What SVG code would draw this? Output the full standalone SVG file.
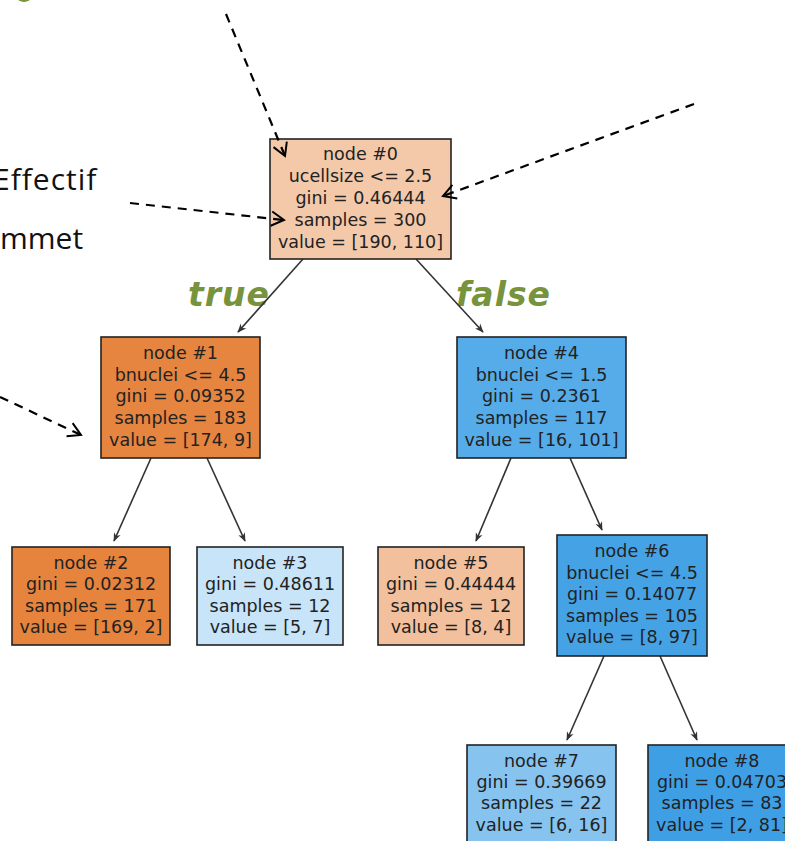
<svg xmlns="http://www.w3.org/2000/svg" width="785" height="841" viewBox="0 0 785 841">
  <defs>
    <marker id="tip" viewBox="0 0 10 10" refX="9" refY="5" markerWidth="9" markerHeight="9" markerUnits="userSpaceOnUse" orient="auto">
      <path d="M0,1 L10,5 L0,9 L3,5 Z" fill="#333"/>
    </marker>
    <marker id="open" viewBox="0 0 20 20" refX="18" refY="10" markerWidth="18" markerHeight="18" markerUnits="userSpaceOnUse" orient="auto">
      <path d="M4,2 L18,10 L4,18" fill="none" stroke="#000" stroke-width="2.2"/>
    </marker>
    <style>
      .box { stroke: #222; stroke-width: 1.6; }
      .lbl { font-family: "DejaVu Sans", sans-serif; font-size: 17.5px; fill: #222; text-anchor: middle; }
      .edge { stroke: #333; stroke-width: 1.6; fill: none; marker-end: url(#tip); }
      .note { stroke: #000; stroke-width: 2.2; stroke-dasharray: 9 7; fill: none; marker-end: url(#open); }
      .side { font-family: "Open Sans", "Noto Sans", sans-serif; font-size: 30px; fill: #111; }
      .branch { font-family: "DejaVu Sans", sans-serif; font-size: 33px; font-weight: bold; font-style: italic; fill: #77933c; letter-spacing: 1px; }
    </style>
  </defs>

  <rect width="785" height="841" fill="#fff"/>

  <!-- clipped green mark at top left -->
  <ellipse cx="24" cy="-3" rx="7" ry="5" fill="#77933c"/>

  <!-- side captions -->
  <text class="side" x="-7" y="190" letter-spacing="1">Effectif</text>
  <text class="side" x="0" y="249">mmet</text>

  <!-- branch labels -->
  <text class="branch" x="188" y="306">true</text>
  <text class="branch" x="456" y="306">false</text>

  <!-- connectors -->
  <g id="edges">
    <line class="edge" x1="303" y1="259" x2="238" y2="332"/>
    <line class="edge" x1="416" y1="259" x2="483" y2="332"/>
    <line class="edge" x1="151" y1="458" x2="114" y2="541"/>
    <line class="edge" x1="207" y1="458" x2="245" y2="541"/>
    <line class="edge" x1="511" y1="458" x2="476" y2="541"/>
    <line class="edge" x1="570" y1="458" x2="602" y2="530"/>
    <line class="edge" x1="604" y1="656" x2="567" y2="740"/>
    <line class="edge" x1="660" y1="656" x2="697" y2="740"/>
  </g>

  <g id="node0">
    <rect class="box" x="270" y="139" width="181" height="120" fill="#f4c9aa"/>
    <text class="lbl" x="360.5" y="160">node #0</text>
    <text class="lbl" x="360.5" y="182">ucellsize &lt;= 2.5</text>
    <text class="lbl" x="360.5" y="204">gini = 0.46444</text>
    <text class="lbl" x="360.5" y="226">samples = 300</text>
    <text class="lbl" x="360.5" y="248">value = [190, 110]</text>
  </g>

  <g id="node1">
    <rect class="box" x="101" y="337" width="159" height="121" fill="#e68540"/>
    <text class="lbl" x="180.5" y="359">node #1</text>
    <text class="lbl" x="180.5" y="381">bnuclei &lt;= 4.5</text>
    <text class="lbl" x="180.5" y="402">gini = 0.09352</text>
    <text class="lbl" x="180.5" y="424">samples = 183</text>
    <text class="lbl" x="180.5" y="446">value = [174, 9]</text>
  </g>

  <g id="node4">
    <rect class="box" x="457" y="337" width="169" height="121" fill="#56ace8"/>
    <text class="lbl" x="541.5" y="359">node #4</text>
    <text class="lbl" x="541.5" y="381">bnuclei &lt;= 1.5</text>
    <text class="lbl" x="541.5" y="402">gini = 0.2361</text>
    <text class="lbl" x="541.5" y="424">samples = 117</text>
    <text class="lbl" x="541.5" y="446">value = [16, 101]</text>
  </g>

  <g id="node2">
    <rect class="box" x="12" y="547" width="158" height="98" fill="#e6843e"/>
    <text class="lbl" x="91" y="569">node #2</text>
    <text class="lbl" x="91" y="590">gini = 0.02312</text>
    <text class="lbl" x="91" y="612">samples = 171</text>
    <text class="lbl" x="91" y="633">value = [169, 2]</text>
  </g>

  <g id="node3">
    <rect class="box" x="197" y="547" width="146" height="98" fill="#c8e4f8"/>
    <text class="lbl" x="270" y="569">node #3</text>
    <text class="lbl" x="270" y="590">gini = 0.48611</text>
    <text class="lbl" x="270" y="612">samples = 12</text>
    <text class="lbl" x="270" y="633">value = [5, 7]</text>
  </g>

  <g id="node5">
    <rect class="box" x="378" y="547" width="146" height="98" fill="#f2c09c"/>
    <text class="lbl" x="451" y="569">node #5</text>
    <text class="lbl" x="451" y="590">gini = 0.44444</text>
    <text class="lbl" x="451" y="612">samples = 12</text>
    <text class="lbl" x="451" y="633">value = [8, 4]</text>
  </g>

  <g id="node6">
    <rect class="box" x="557" y="535" width="150" height="121" fill="#45a3e5"/>
    <text class="lbl" x="632" y="557">node #6</text>
    <text class="lbl" x="632" y="579">bnuclei &lt;= 4.5</text>
    <text class="lbl" x="632" y="600">gini = 0.14077</text>
    <text class="lbl" x="632" y="622">samples = 105</text>
    <text class="lbl" x="632" y="643">value = [8, 97]</text>
  </g>

  <g id="node7">
    <rect class="box" x="467" y="745" width="149" height="110" fill="#86c3ef"/>
    <text class="lbl" x="541.5" y="767">node #7</text>
    <text class="lbl" x="541.5" y="788">gini = 0.39669</text>
    <text class="lbl" x="541.5" y="809">samples = 22</text>
    <text class="lbl" x="541.5" y="831">value = [6, 16]</text>
  </g>

  <g id="node8">
    <rect class="box" x="648" y="745" width="150" height="110" fill="#3f9fe5"/>
    <text class="lbl" x="722" y="767">node #8</text>
    <text class="lbl" x="722" y="788">gini = 0.04703</text>
    <text class="lbl" x="722" y="809">samples = 83</text>
    <text class="lbl" x="722" y="831">value = [2, 81]</text>
  </g>

  <!-- dashed pointers, drawn over the boxes -->
  <g id="pointers">
    <line class="note" x1="226" y1="14" x2="285" y2="156"/>
    <line class="note" x1="130" y1="203" x2="284" y2="220"/>
    <line class="note" x1="694" y1="104" x2="443" y2="196"/>
    <line class="note" x1="0" y1="397" x2="81" y2="435"/>
  </g>
</svg>
